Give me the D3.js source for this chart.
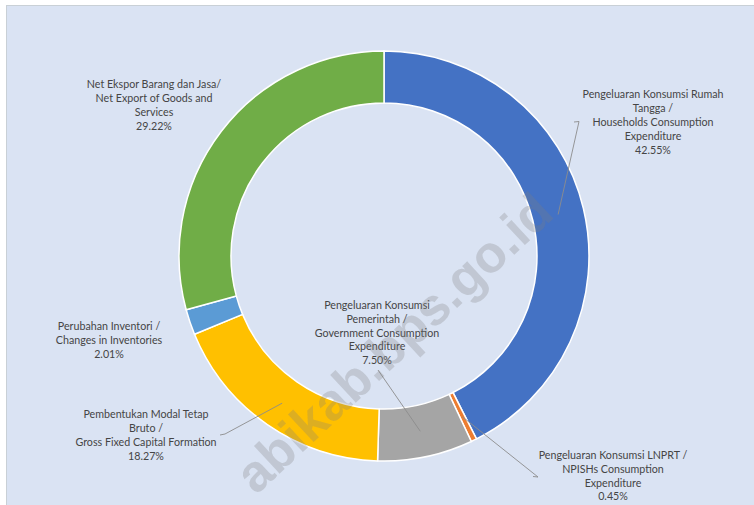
<!DOCTYPE html>
<html>
<head>
<meta charset="utf-8">
<script src="https://cdn.jsdelivr.net/npm/d3@7"></script>
<style>
  html, body { margin: 0; padding: 0; background: #ffffff; }
  svg { display: block; }
</style>
</head>
<body>
<svg id="chart" width="754" height="505"></svg>
<script>
// ---- data ----
const categories = [
  ["Pengeluaran Konsumsi Rumah", "Tangga /", "Households Consumption", "Expenditure"],
  ["Pengeluaran Konsumsi LNPRT /", "NPISHs Consumption", "Expenditure"],
  ["Pengeluaran Konsumsi", "Pemerintah /", "Government Consumption", "Expenditure"],
  ["Pembentukan Modal Tetap", "Bruto /", "Gross Fixed Capital Formation"],
  ["Perubahan Inventori /", "Changes in Inventories"],
  ["Net Ekspor Barang dan Jasa/", "Net Export of Goods and", "Services"]
];
const values = [42.55, 0.45, 7.50, 18.27, 2.01, 29.22];
const colors = ["#4472c4", "#ed7d31", "#a5a5a5", "#ffc000", "#5b9bd5", "#70ad47"];
const watermarkText = "abikab.bps.go.id";

// ---- layout (label centres, first line centre, leader start/elbow) ----
const labelLayout = [
  { x: 653, y: 94.5, leader: [[574, 122], [579, 121.5]] },
  { x: 613, y: 455, leader: [[533, 476.5], [538, 477]] },
  { x: 377, y: 305, leader: [[378, 370]] },
  { x: 146, y: 414.5, leader: [[220, 435], [225, 434]] },
  { x: 109, y: 326, leader: null },
  { x: 154, y: 84.5, leader: null }
];

const W = 754, H = 505;
const cx = 384, cy = 256, rOuter = 205, rInner = 153;
const lineH = 13.9;

const svg = d3.select("#chart");

// panel background with border
svg.append("rect").attr("x", 0).attr("y", 0).attr("width", W).attr("height", H).attr("fill", "#ffffff");
svg.append("rect")
  .attr("x", 6.5).attr("y", 5.5).attr("width", W).attr("height", H)
  .attr("fill", "#dae3f3").attr("stroke", "#c9d0d6").attr("stroke-width", 1);

const data = values.map((v, i) => ({ value: v, lines: categories[i], color: colors[i], layout: labelLayout[i] }));

const pie = d3.pie().sort(null).value(d => d.value).startAngle(0).endAngle(2 * Math.PI);
const arc = d3.arc().innerRadius(rInner).outerRadius(rOuter);
const arcs = pie(data);

const g = svg.append("g").attr("transform", `translate(${cx},${cy})`);
g.selectAll("path.slice")
  .data(arcs)
  .join("path")
  .attr("class", "slice")
  .attr("d", arc)
  .attr("fill", d => d.data.color)
  .attr("stroke", "#ffffff")
  .attr("stroke-width", 1.5);

// leader lines
const leaderLine = d3.line();
arcs.forEach(a => {
  const L = a.data.layout;
  if (!L.leader) return;
  const c = arc.centroid(a);
  const pts = L.leader.map(p => [p[0], p[1]]);
  pts.push([c[0] + cx, c[1] + cy]);
  svg.append("path")
    .attr("d", leaderLine(pts))
    .attr("fill", "none")
    .attr("stroke", "#8c8c8c")
    .attr("stroke-width", 0.9);
});

// labels
const fmt = d3.format(".2f");
arcs.forEach(a => {
  const L = a.data.layout;
  const lines = a.data.lines.concat([fmt(a.data.value) + "%"]);
  const t = svg.append("text")
    .attr("text-anchor", "middle")
    .attr("font-family", "Lato, 'Open Sans', sans-serif")
    .attr("font-size", 10.7)
    .attr("fill", "#454545");
  lines.forEach((s, i) => {
    t.append("tspan")
      .attr("x", L.x)
      .attr("y", L.y + i * lineH)
      .attr("dy", "0.35em")
      .text(s);
  });
});

// watermark
svg.append("text")
  .attr("transform", "translate(556,216) rotate(-43)")
  .attr("text-anchor", "end")
  .attr("font-family", "'Liberation Sans', Arial, sans-serif")
  .attr("font-weight", "bold")
  .attr("font-size", 52)
  .attr("fill", "#7f7f7f")
  .attr("fill-opacity", 0.27)
  .text(watermarkText);
</script>
</body>
</html>
